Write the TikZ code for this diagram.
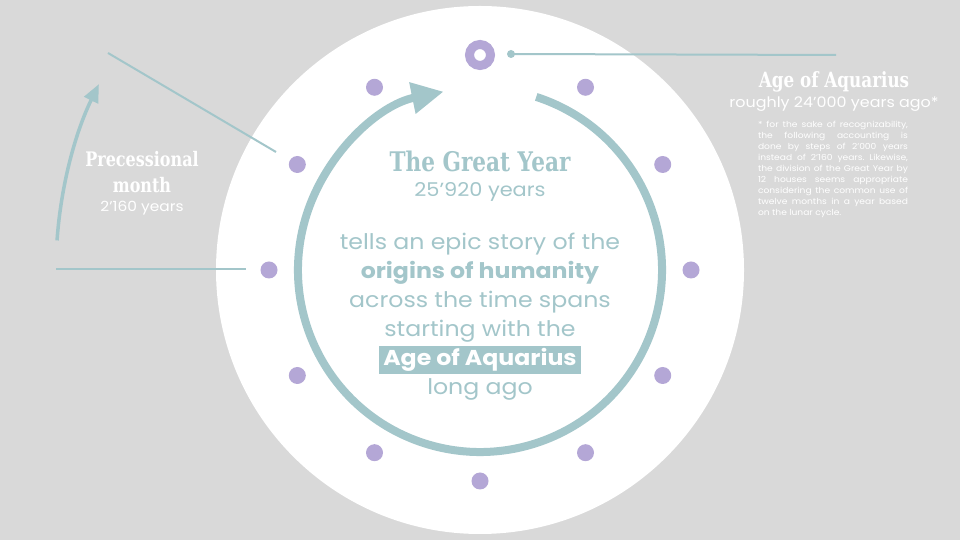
\documentclass[tikz,border=0pt]{standalone}
\usepackage{fontspec}
\setmainfont{Poppins}[FakeStretch=1.1]
\newfontfamily\slabfont{DejaVu Serif}[FakeStretch=0.8]
\usetikzlibrary{arrows.meta}
\definecolor{bgGrey}{HTML}{D9D9D9}
\definecolor{seaTeal}{HTML}{A3C6CA}
\definecolor{houseLilac}{HTML}{B4A7D6}
\tikzset{
  house/.style={fill=houseLilac},
  pointer/.style={draw=seaTeal,line width=2},
  slabtitle/.style={font=\slabfont\bfseries\fontsize{#1}{#1}\selectfont,inner sep=0},
  bodytext/.style={font=\fontsize{#1}{#1}\selectfont,inner sep=0},
  bodybold/.style={font=\bfseries\fontsize{#1}{#1}\selectfont,inner sep=0}
}

\begin{document}
\frenchspacing
\begin{tikzpicture}[x=1pt,y=1pt]
\fill[bgGrey] (0,0) rectangle (960,540);
\fill[white] (480,270) circle (264);
\coordinate (hub) at (480,270);

\fill[house] (691,270) circle (8.5);
\fill[house] (662.7,375.5) circle (8.5);
\fill[house] (585.5,452.7) circle (8.5);
\fill[house] (374.5,452.7) circle (8.5);
\fill[house] (297.3,375.5) circle (8.5);
\fill[house] (269,270) circle (8.5);
\fill[house] (297.3,164.5) circle (8.5);
\fill[house] (374.5,87.3) circle (8.5);
\fill[house] (480,59) circle (8.5);
\fill[house] (585.5,87.3) circle (8.5);
\fill[house] (662.7,164.5) circle (8.5);
\draw[houseLilac,line width=9] (480,485) circle (10.5);

\draw[seaTeal,line width=8,-{Triangle[length=32,width=30]}] (hub) ++(72:182) arc (72:-258.5:182);
\draw[seaTeal,line width=3.5,-{Triangle[length=18,width=15]}] (hub) ++(176:424) arc (176:154:424);

\coordinate (aquaStart) at (511,486);
\coordinate (aquaEnd) at (836,485);
\fill[seaTeal] (aquaStart) circle (4);
\draw[pointer] (aquaStart) -- (aquaEnd);
\coordinate (monthTop) at (108,487);
\coordinate (monthTopEnd) at (276,388);
\draw[pointer] (monthTop) -- (monthTopEnd);
\coordinate (monthLow) at (56,271);
\coordinate (monthLowEnd) at (246,271);
\draw[pointer] (monthLow) -- (monthLowEnd);

\node[slabtitle=27,text=seaTeal] (greatYear) at (480,379) {The Great Year};
\node[bodytext=19,text=seaTeal] (greatYears) at (480,348) {25’920 years};
\node[bodytext=21.5,text=seaTeal] (story1) at (480,296) {tells an epic story of the};
\node[bodybold=21.5,text=seaTeal] (story2) at (480,267) {origins of humanity};
\node[bodytext=21.5,text=seaTeal] (story3) at (480,238) {across the time spans};
\node[bodytext=21.5,text=seaTeal] (story4) at (480,209) {starting with the};
\fill[seaTeal] (379,166) rectangle (581,194);
\node[bodybold=21.5,text=white] (story5) at (480,180) {Age of Aquarius};
\node[bodytext=21.5,text=seaTeal] (story6) at (480,151) {long ago};

\node[slabtitle=20,text=white] (precess1) at (142,381) {Precessional};
\node[slabtitle=20,text=white] (precess2) at (142,355) {month};
\node[bodytext=14,text=white] (precessYears) at (142,332) {2’160 years};

\node[slabtitle=21,text=white] (aquarius) at (834,458) {Age of Aquarius};
\node[bodytext=14.5,text=white] (aquariusAgo) at (834,436) {roughly 24’000 years ago*};
\node[text=white,text width=150,align=justify,inner sep=0,anchor=north,
  font=\fontsize{8.3}{11}\selectfont] (footnote) at (833,419)
  {* for the sake of recognizability,\linebreak the following accounting is\linebreak done by steps of 2’000 years\linebreak instead of 2’160 years. Likewise,\linebreak the division of the Great Year by\linebreak 12 houses seems appropriate\linebreak considering the common use of\linebreak twelve months in a year based\linebreak on the lunar cycle.};
\end{tikzpicture}
\end{document}
